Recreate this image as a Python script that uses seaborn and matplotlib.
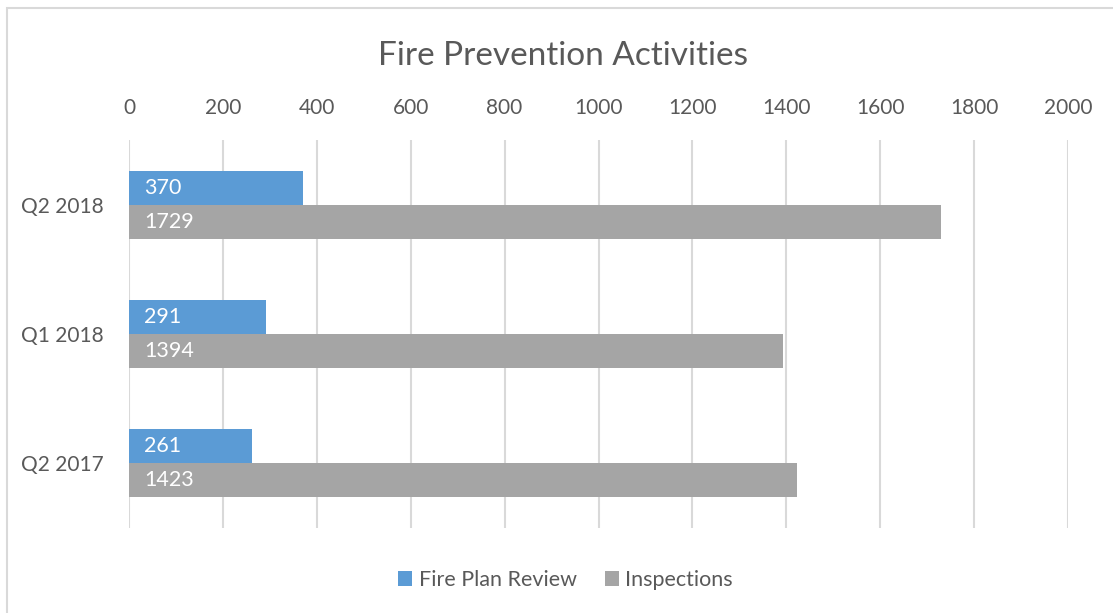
import pandas as pd
import numpy as np
import matplotlib.pyplot as plt
import matplotlib.patches as patches
import seaborn as sns

quarters = ['Q2 2018', 'Q1 2018', 'Q2 2017']
fire_plan_review = [370, 291, 261]
inspections = [1729, 1394, 1423]
series = ['Fire Plan Review', 'Inspections']
x_ticks = [0, 200, 400, 600, 800, 1000, 1200, 1400, 1600, 1800, 2000]

df = pd.DataFrame({
    'quarter': quarters * 2,
    'series': [series[0]] * 3 + [series[1]] * 3,
    'value': fire_plan_review + inspections,
})

sns.set_style('white')
plt.rcParams['font.family'] = ['Lato', 'DejaVu Sans']
text_col = '#595959'
palette = {series[0]: '#5B9BD5', series[1]: '#A5A5A5'}

fig = plt.figure(figsize=(11.13, 6.13), dpi=100)
ax = fig.add_axes([129 / 1113, 1 - 528 / 613, (1068 - 129) / 1113, (528 - 140) / 613])

sns.barplot(data=df, y='quarter', x='value', hue='series', order=quarters,
            hue_order=series, palette=palette, orient='h', width=0.526,
            saturation=1, linewidth=0, ax=ax, legend=True)

ax.set_xlim(0, 2000)
ax.set_ylim(2.5, -0.5)
ax.set_xticks(x_ticks)
ax.xaxis.tick_top()
ax.tick_params(axis='x', length=0, pad=15.5, labelsize=15, labelcolor=text_col)
ax.tick_params(axis='y', length=0, pad=18, labelsize=15, labelcolor=text_col)
ax.set_xlabel('')
ax.set_ylabel('')
ax.grid(axis='x', color='#D9D9D9', linewidth=1.5)
ax.set_axisbelow(True)
for s in ax.spines.values():
    s.set_visible(False)

for cont in ax.containers:
    for bar, v in zip(cont, cont.datavalues):
        ax.text(bar.get_x() + 33, bar.get_y() + bar.get_height() / 2, f'{int(v)}',
                color='white', fontsize=15.5, va='center', ha='left')

ax.legend(loc='center', bbox_to_anchor=(0.508, 1 - 580 / 613), bbox_transform=fig.transFigure,
          ncol=2, frameon=False, fontsize=15.5, labelcolor=text_col,
          handlelength=0.65, handleheight=0.65, handletextpad=0.3, columnspacing=1.3)

fig.text(0.506, 1 - 56 / 613, 'Fire Prevention Activities', ha='center', va='center',
         fontsize=24, color=text_col)

fig.patches.append(patches.Rectangle((7 / 1113, -0.1), 2, 1 - 8 / 613 + 0.1,
                                     transform=fig.transFigure, fill=False,
                                     edgecolor='#D9D9D9', linewidth=1.5))

plt.savefig('out.png', dpi=100)
